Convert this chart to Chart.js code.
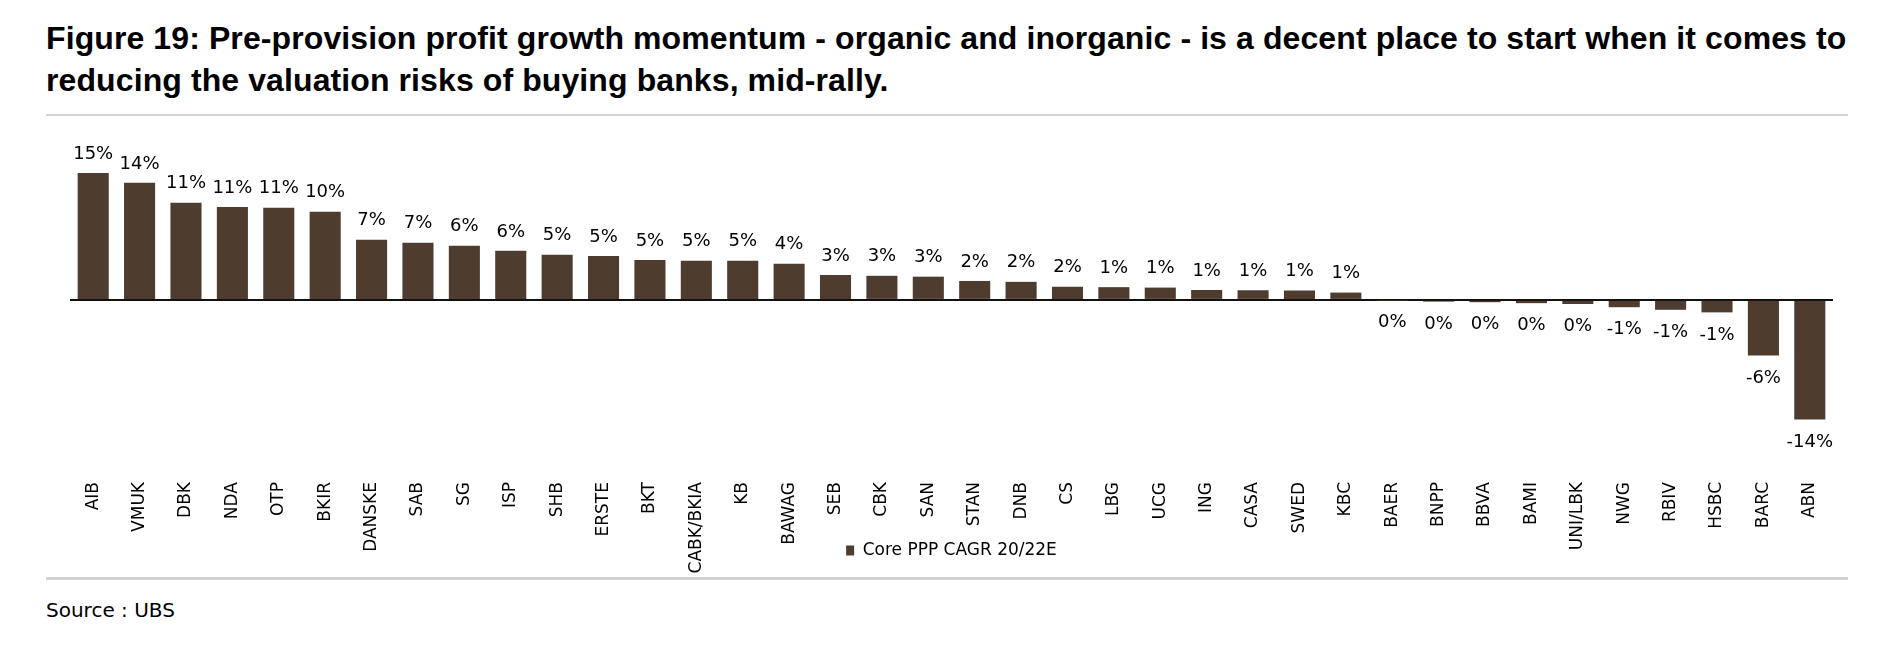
<!DOCTYPE html>
<html>
<head>
<meta charset="utf-8">
<script src="https://cdn.jsdelivr.net/npm/chart.js@4.4.1/dist/chart.umd.min.js"></script>
<style>
  html, body { margin: 0; padding: 0; background: #fff; }
  body { width: 1900px; height: 667px; position: relative; overflow: hidden; }
  #title {
    position: absolute; left: 46px; top: 17px;
    font: bold 32px "Liberation Sans", Arial, sans-serif;
    letter-spacing: 0.1px;
    line-height: 42px; color: #000; white-space: nowrap;
  }
  .rule { position: absolute; left: 46px; width: 1802px; background: #d2d2d2; }
  #wrap { position: absolute; left: 70px; top: 130px; width: 1763px; height: 489px; }
  #source {
    position: absolute; left: 46px; top: 598px;
    font: 20px "DejaVu Sans", sans-serif; color: #000;
  }
</style>
</head>
<body>
<div id="title">Figure 19: Pre-provision profit growth momentum - organic and inorganic - is a decent place to start when it comes to<br>reducing the valuation risks of buying banks, mid-rally.</div>
<div class="rule" style="top:114px;height:2px"></div>
<div class="rule" style="top:577px;height:3px"></div>
<div id="source">Source : UBS</div>
<div id="wrap"><canvas id="myChart"></canvas></div>

<script>
const banks = ["AIB", "VMUK", "DBK", "NDA", "OTP", "BKIR", "DANSKE", "SAB", "SG", "ISP",
  "SHB", "ERSTE", "BKT", "CABK/BKIA", "KB", "BAWAG", "SEB", "CBK", "SAN", "STAN",
  "DNB", "CS", "LBG", "UCG", "ING", "CASA", "SWED", "KBC", "BAER", "BNPP",
  "BBVA", "BAMI", "UNI/LBK", "NWG", "RBIV", "HSBC", "BARC", "ABN"];

// Core PPP CAGR 20/22E, in %
const cagr = [14.75, 13.6, 11.3, 10.8, 10.7, 10.25, 7.0, 6.65, 6.3, 5.7,
  5.25, 5.1, 4.65, 4.55, 4.55, 4.2, 2.9, 2.8, 2.7, 2.2,
  2.1, 1.52, 1.48, 1.43, 1.15, 1.12, 1.08, 0.85, -0.05, -0.2,
  -0.27, -0.38, -0.48, -0.85, -1.15, -1.45, -6.45, -13.9];

const seriesName = "Core PPP CAGR 20/22E";
const yMin = -20;
const yMax = 18;

const brown = "#4E3C2F";

// labels above / below each bar
const valueLabels = {
  id: "valueLabels",
  afterDatasetsDraw(chart) {
    const ctx = chart.ctx;
    const meta = chart.getDatasetMeta(0);
    const vals = chart.data.datasets[0].data;
    ctx.save();
    ctx.font = '18px "DejaVu Sans", sans-serif';
    ctx.fillStyle = "#000";
    ctx.textAlign = "center";
    ctx.textBaseline = "middle";
    meta.data.forEach((bar, i) => {
      const v = vals[i];
      const txt = (Math.round(v) || 0) + "%";
      const y = v >= 0 ? bar.y - 19 : bar.y + 22.5;
      ctx.fillText(txt, bar.x, y);
    });
    ctx.restore();
  },
};

// legend sits in between the rotated bank names, like the original
const liftLegend = {
  id: "liftLegend",
  afterLayout(chart) {
    const lg = chart.legend;
    const h = lg.bottom - lg.top;
    lg.top = 402;
    lg.bottom = 402 + h;
  },
};

const chartEl = document.getElementById("myChart");

new Chart(chartEl, {
  type: "bar",
  data: {
    labels: banks,
    datasets: [
      {
        label: seriesName,
        data: cagr,
        backgroundColor: brown,
        borderWidth: 0,
        categoryPercentage: 1,
        barPercentage: 0.67,
      },
    ],
  },
  options: {
    responsive: true,
    maintainAspectRatio: false,
    animation: false,
    layout: { padding: { top: 15 } },
    scales: {
      x: {
        grid: { display: false },
        border: { display: false },
        ticks: {
          autoSkip: false,
          minRotation: 90,
          maxRotation: 90,
          padding: 2,
          color: "#000",
          font: { size: 17, family: "DejaVu Sans" },
        },
        afterFit: function (scale) {
          scale.height = 110;
          scale.paddingLeft = 0;
          scale.paddingRight = 0;
        },
      },
      y: {
        min: yMin,
        max: yMax,
        ticks: { display: false, stepSize: 2 },
        border: { display: false },
        grid: {
          drawTicks: false,
          lineWidth: 2,
          color: (c) => (c.tick && c.tick.value === 0 ? "#111" : "rgba(0,0,0,0)"),
        },
      },
    },
    plugins: {
      legend: {
        position: "bottom",
        labels: {
          boxWidth: 8,
          boxHeight: 10,
          padding: 10,
          color: "#000",
          font: { size: 17, family: "DejaVu Sans" },
        },
      },
      tooltip: { enabled: false },
    },
  },
  plugins: [valueLabels, liftLegend],
});
</script>
</body>
</html>
